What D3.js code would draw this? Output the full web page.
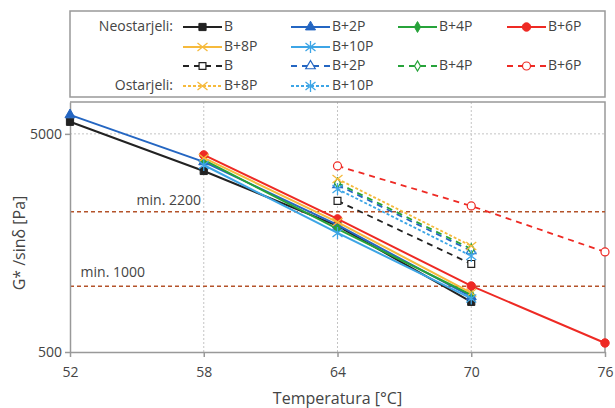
<!DOCTYPE html>
<html lang="sl">
<head>
<meta charset="UTF-8"/>
<title>G*/sinδ</title>
<script src="https://cdnjs.cloudflare.com/ajax/libs/d3/7.8.5/d3.min.js"></script>
<style>
    body { margin: 0; background: #fff; }
    text { font-family: "Open Sans", sans-serif; fill: #444; }
</style>
</head>
<body>
<div id="chart"></div>
<script>
    // Data
    const temps = [52, 58, 64, 70, 76];
    const xTicks = [52, 58, 64, 70, 76];
    const yTicks = [500, 5000];
    const seriesNames = ["B", "B+2P", "B+4P", "B+6P", "B+8P", "B+10P"];

    // Neostarjeli (unaged), aligned with temps, null = no value
    const unagedB    = [5680, 3380, 1892, 849, null];
    const unagedB2P  = [6110, 3720, 1912, 896, null];
    const unagedB4P  = [null, 3800, 1834, 915, null];
    const unagedB6P  = [null, 4004, 2038, 1004, 550];
    const unagedB8P  = [null, 3880, 1970, 934, null];
    const unagedB10P = [null, 3600, 1758, 880, null];

    // Ostarjeli (aged)
    const agedB    = [null, null, 2465, 1267, null];
    const agedB2P  = [null, null, 2917, 1452, null];
    const agedB4P  = [null, null, 2977, 1484, null];
    const agedB6P  = [null, null, 3565, 2336, 1438];
    const agedB8P  = [null, null, 3108, 1532, null];
    const agedB10P = [null, null, 2794, 1378, null];

    const limits = [2200, 1000];
    const limitLabels = ["min. 2200", "min. 1000"];

    const colors = ["#222222", "#2466c2", "#27a33a", "#ee2a24", "#f6ba3c", "#3da5e6"];
    const markers = ["square", "triangle", "diamond", "circle", "x", "star"];

    const unaged = [unagedB, unagedB2P, unagedB4P, unagedB6P, unagedB8P, unagedB10P];
    const aged = [agedB, agedB2P, agedB4P, agedB6P, agedB8P, agedB10P];

    // Setup
    const width = 615;
    const height = 408;
    const plot = {left: 70, right: 605, top: 102, bottom: 352};

    const svg = d3.select("#chart")
        .append("svg")
        .attr("width", width)
        .attr("height", height);

    const xScale = d3.scaleLinear()
        .domain([52, 76])
        .range([plot.left, plot.right]);

    const yScale = d3.scaleLog()
        .domain([500, 7000])
        .range([plot.bottom, plot.top]);

    // Grid lines
    const grid = svg.append("g");
    [58, 64, 70].forEach(t => {
        grid.append("line")
            .attr("x1", xScale(t)).attr("x2", xScale(t))
            .attr("y1", plot.top).attr("y2", plot.bottom)
            .attr("stroke", "#c4c4c4")
            .attr("stroke-dasharray", "2,2");
    });
    grid.append("line")
        .attr("x1", plot.left).attr("x2", plot.right)
        .attr("y1", yScale(5000)).attr("y2", yScale(5000))
        .attr("stroke", "#c4c4c4")
        .attr("stroke-dasharray", "2,2");

    // Plot frame (top and right)
    svg.append("path")
        .attr("d", `M${plot.left},${plot.top}H${plot.right}V${plot.bottom}`)
        .attr("fill", "none")
        .attr("stroke", "#999")
        .attr("stroke-width", 1.5);

    // Limit lines
    limits.forEach(v => {
        svg.append("line")
            .attr("x1", plot.left).attr("x2", plot.right)
            .attr("y1", yScale(v)).attr("y2", yScale(v))
            .attr("stroke", "#b4532a")
            .attr("stroke-width", 1.5)
            .attr("stroke-dasharray", "4,3");
    });
    svg.append("text")
        .attr("x", 201).attr("y", yScale(2200) - 10)
        .attr("text-anchor", "end")
        .attr("font-size", 14)
        .attr("dominant-baseline", "middle")
        .text(limitLabels[0]);
    svg.append("text")
        .attr("x", 145).attr("y", yScale(1000) - 13)
        .attr("text-anchor", "end")
        .attr("font-size", 14)
        .attr("dominant-baseline", "middle")
        .text(limitLabels[1]);

    // Axes
    const xAxis = svg.append("g")
        .attr("transform", `translate(0,${plot.bottom})`)
        .call(d3.axisBottom(xScale).tickValues(xTicks).tickSize(5).tickSizeOuter(0));
    const yAxis = svg.append("g")
        .attr("transform", `translate(${plot.left},0)`)
        .call(d3.axisLeft(yScale).tickValues(yTicks).tickFormat(d3.format("d")).tickSize(5).tickSizeOuter(0));

    [xAxis, yAxis].forEach(ax => {
        ax.select(".domain").attr("stroke", "#999").attr("stroke-width", 1.5);
        ax.selectAll(".tick line").attr("stroke", "#999").attr("stroke-width", 1.5);
        ax.selectAll(".tick text")
            .attr("font-family", "Open Sans, sans-serif")
            .attr("font-size", 14)
            .attr("fill", "#444");
    });
    xAxis.selectAll(".tick text").attr("dy", "1.2em");

    svg.append("text")
        .attr("x", (plot.left + plot.right) / 2)
        .attr("y", 400)
        .attr("text-anchor", "middle")
        .attr("dominant-baseline", "middle")
        .attr("font-size", 16)
        .text("Temperatura [°C]");

    svg.append("text")
        .attr("transform", "translate(21,243) rotate(-90)")
        .attr("text-anchor", "middle")
        .attr("dominant-baseline", "middle")
        .attr("font-size", 16)
        .text("G* /sinδ [Pa]");

    // Marker drawing
    function drawMarker(g, type, x, y, color, filled) {
        const fill = filled ? color : "#fff";
        if (type === "x") {
            g.append("path")
                .attr("d", `M${x - 5},${y - 4}L${x + 5},${y + 4}M${x - 5},${y + 4}L${x + 5},${y - 4}`)
                .attr("stroke", color).attr("stroke-width", 1.3).attr("fill", "none");
        } else if (type === "star") {
            g.append("path")
                .attr("d", `M${x - 5},${y - 4}L${x + 5},${y + 4}M${x - 5},${y + 4}L${x + 5},${y - 4}M${x},${y - 6}L${x},${y + 6}`)
                .attr("stroke", color).attr("stroke-width", 1.3).attr("fill", "none");
        } else {
            const sym = {
                square: [d3.symbolSquare, 52],
                triangle: [d3.symbolTriangle, 44],
                diamond: [d3.symbolDiamond, 34],
                circle: [d3.symbolCircle, 56]
            }[type];
            g.append("path")
                .attr("d", d3.symbol().type(sym[0]).size(filled ? sym[1] : sym[1] * 0.9)())
                .attr("transform", `translate(${x},${y})`)
                .attr("fill", fill)
                .attr("stroke", color)
                .attr("stroke-width", filled ? 1 : 1.2);
        }
    }

    const line = d3.line()
        .defined(d => d.v != null)
        .x(d => xScale(d.t))
        .y(d => yScale(d.v));

    function drawSeries(values, i, isAged) {
        const pts = temps.map((t, j) => ({t: t, v: values[j]}));
        const g = svg.append("g");
        g.append("path")
            .datum(pts)
            .attr("d", line)
            .attr("fill", "none")
            .attr("stroke", colors[i])
            .attr("stroke-width", isAged ? 1.8 : 2)
            .attr("stroke-dasharray", isAged ? (i >= 4 ? "3,2" : "6,5") : null);
        pts.filter(d => d.v != null).forEach(d => {
            drawMarker(g, markers[i], xScale(d.t), yScale(d.v), colors[i], !isAged);
        });
    }

    aged.forEach((vals, i) => drawSeries(vals, i, true));
    unaged.forEach((vals, i) => drawSeries(vals, i, false));

    // Legend
    const legend = svg.append("g");
    legend.append("rect")
        .attr("x", 70).attr("y", 11)
        .attr("width", 535).attr("height", 86)
        .attr("fill", "#fff")
        .attr("stroke", "#999")
        .attr("stroke-width", 1.5);

    const colX = [183, 291, 398, 507];
    const rowY = [27, 47, 66, 86];
    const lineLen = 39;

    function legendItem(i, isAged) {
        const col = i % 4;
        const row = (i < 4 ? 0 : 1) + (isAged ? 2 : 0);
        const x0 = colX[col];
        const y0 = rowY[row];
        legend.append("line")
            .attr("x1", x0).attr("x2", x0 + lineLen)
            .attr("y1", y0).attr("y2", y0)
            .attr("stroke", colors[i])
            .attr("stroke-width", isAged ? 1.8 : 2)
            .attr("stroke-dasharray", isAged ? (i >= 4 ? "3,2" : "6,5") : null);
        drawMarker(legend, markers[i], x0 + lineLen / 2, y0, colors[i], !isAged);
        legend.append("text")
            .attr("x", x0 + lineLen + 2)
            .attr("y", y0)
            .attr("dominant-baseline", "middle")
            .attr("font-size", 14)
            .text(seriesNames[i]);
    }

    seriesNames.forEach((n, i) => legendItem(i, false));
    seriesNames.forEach((n, i) => legendItem(i, true));

    legend.append("text")
        .attr("x", 173).attr("y", rowY[0])
        .attr("text-anchor", "end")
        .attr("dominant-baseline", "middle")
        .attr("font-size", 14)
        .text("Neostarjeli:");
    legend.append("text")
        .attr("x", 173).attr("y", rowY[3])
        .attr("text-anchor", "end")
        .attr("dominant-baseline", "middle")
        .attr("font-size", 14)
        .text("Ostarjeli:");
</script>
</body>
</html>
